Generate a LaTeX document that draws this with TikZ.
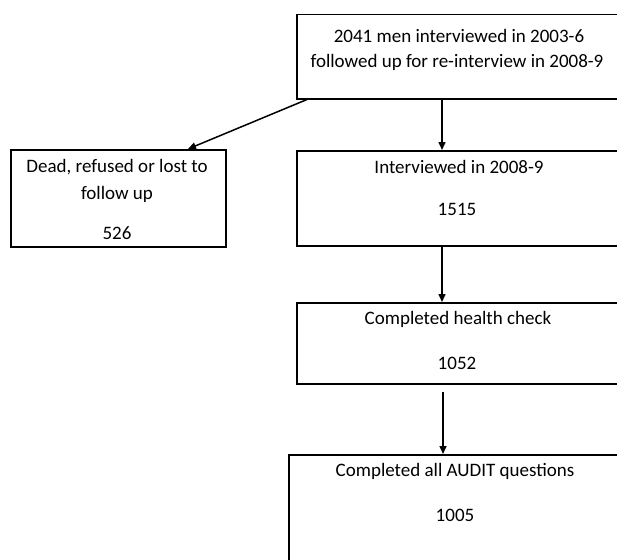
\documentclass[tikz,border=0pt]{standalone}
\usepackage{fontspec}
\setmainfont{Carlito}
\usetikzlibrary{arrows.meta}
\tikzset{
  boxs/.style={draw=black, line width=1.5pt, rectangle, anchor=north west, inner sep=0pt},
  txt/.style={font=\fontsize{19}{25}\selectfont, inner sep=0pt, anchor=base},
  arr/.style={line width=1.5pt, -{Triangle[length=8pt,width=7pt]}}
}
\begin{document}
\begin{tikzpicture}[x=1pt,y=-1pt]
\useasboundingbox (0,0) rectangle (617,559);
\clip (0,0) rectangle (617,559);
% boxes
\node[boxs, minimum width=326pt, minimum height=84pt] (top) at (296,14) {};
\node[boxs, minimum width=326pt, minimum height=95pt] (int) at (296,150) {};
\node[boxs, minimum width=215pt, minimum height=97pt] (lost) at (10,149) {};
\node[boxs, minimum width=326pt, minimum height=81pt] (hc) at (296,302) {};
\node[boxs, minimum width=336pt, minimum height=130pt] (aud) at (288,454) {};
% texts
\node[txt] (t1) at (459,43) {2041 men interviewed in 2003-6};
\node[txt] (t2) at (457,68) {followed up for re-interview in 2008-9};
\node[txt] (t3) at (459,173) {Interviewed in 2008-9};
\node[txt] (t4) at (457,215) {1515};
\node[txt] (t5) at (117,172) {Dead, refused or lost to};
\node[txt] (t6) at (117,199) {follow up};
\node[txt] (t7) at (117,239) {526};
\node[txt] (t8) at (458,324) {Completed health check};
\node[txt] (t9) at (457,369) {1052};
\node[txt] (t10) at (455,476) {Completed all AUDIT questions};
\node[txt] (t11) at (455,521) {1005};
% arrow anchors
\coordinate (a1) at (442,0);
\coordinate (a3) at (443,0);
\coordinate (d1) at (307,0);
\coordinate (d2) at (188,0);
\draw[arr] (top.south west -| a1) -- (int.north west -| a1);
\draw[arr] (top.south west -| d1) -- (lost.north west -| d2);
\draw[arr] (int.south west -| a1) -- (hc.north west -| a1);
\draw[arr, shorten <=7pt] (hc.south west -| a3) -- (aud.north west -| a3);
\end{tikzpicture}
\end{document}
